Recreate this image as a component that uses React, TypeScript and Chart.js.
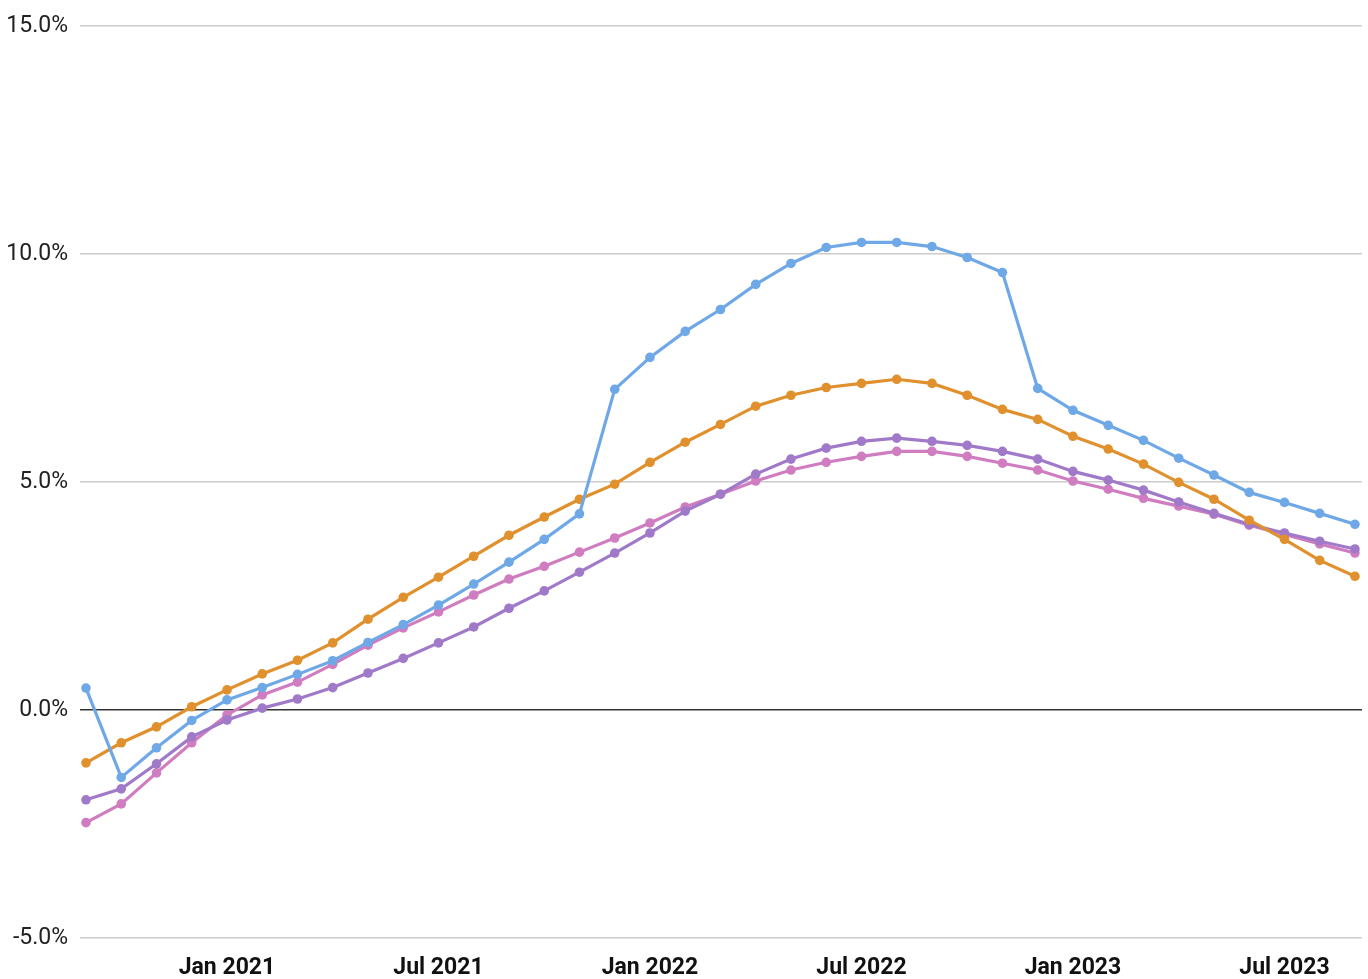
import React, { useEffect, useRef } from "react";
import { Chart, registerables } from "chart.js";

Chart.register(...registerables);

const months: string[] = [
  "Sep 2020", "Oct 2020", "Nov 2020", "Dec 2020",
  "Jan 2021", "Feb 2021", "Mar 2021", "Apr 2021", "May 2021", "Jun 2021",
  "Jul 2021", "Aug 2021", "Sep 2021", "Oct 2021", "Nov 2021", "Dec 2021",
  "Jan 2022", "Feb 2022", "Mar 2022", "Apr 2022", "May 2022", "Jun 2022",
  "Jul 2022", "Aug 2022", "Sep 2022", "Oct 2022", "Nov 2022", "Dec 2022",
  "Jan 2023", "Feb 2023", "Mar 2023", "Apr 2023", "May 2023", "Jun 2023",
  "Jul 2023", "Aug 2023", "Sep 2023",
];

const xTickLabels: string[] = ["Jan 2021", "Jul 2021", "Jan 2022", "Jul 2022", "Jan 2023", "Jul 2023"];
const yTickValues: number[] = [-5, 0, 5, 10, 15];

const blueSeries: number[] = [
  0.48, -1.48, -0.83, -0.23, 0.22, 0.49, 0.78, 1.08, 1.48, 1.87, 2.30, 2.76, 3.24,
  3.74, 4.30, 7.03, 7.73, 8.30, 8.78, 9.33, 9.79, 10.14, 10.25, 10.25, 10.16, 9.92,
  9.59, 7.05, 6.57, 6.24, 5.91, 5.52, 5.15, 4.77, 4.55, 4.31, 4.07,
];
const orangeSeries: number[] = [
  -1.16, -0.72, -0.37, 0.07, 0.44, 0.79, 1.09, 1.47, 1.99, 2.47, 2.91, 3.37, 3.83,
  4.23, 4.62, 4.95, 5.43, 5.87, 6.26, 6.66, 6.90, 7.07, 7.16, 7.25, 7.16, 6.90,
  6.59, 6.37, 6.00, 5.72, 5.39, 4.99, 4.62, 4.16, 3.74, 3.28, 2.93,
];
const purpleSeries: number[] = [
  -1.97, -1.73, -1.18, -0.59, -0.22, 0.04, 0.24, 0.49, 0.81, 1.13, 1.47, 1.82, 2.23,
  2.61, 3.02, 3.44, 3.88, 4.36, 4.73, 5.17, 5.50, 5.74, 5.89, 5.96, 5.89, 5.80,
  5.67, 5.50, 5.23, 5.04, 4.82, 4.56, 4.31, 4.07, 3.88, 3.70, 3.53,
];
const pinkSeries: number[] = [
  -2.47, -2.06, -1.38, -0.72, -0.11, 0.33, 0.61, 1.00, 1.42, 1.80, 2.15, 2.52, 2.87,
  3.15, 3.46, 3.77, 4.10, 4.45, 4.73, 5.02, 5.26, 5.43, 5.56, 5.67, 5.67, 5.56,
  5.41, 5.26, 5.02, 4.84, 4.64, 4.47, 4.29, 4.05, 3.85, 3.64, 3.44,
];

const seriesDefs = [
  { values: blueSeries, color: "#6fa8e6" },
  { values: orangeSeries, color: "#e0902c" },
  { values: purpleSeries, color: "#a07ac8" },
  { values: pinkSeries, color: "#d07cc0" },
];

export default function App() {
  const ref = useRef<HTMLCanvasElement | null>(null);

  useEffect(() => {
    document.body.style.margin = "0";
    const canvas = ref.current;
    if (!canvas) return;
    const tickIdx = xTickLabels.map((l) => months.indexOf(l));
    const chart = new Chart(canvas, {
      type: "line",
      data: {
        datasets: seriesDefs.map((s) => ({
          data: s.values.map((v, i) => ({ x: i, y: v })),
          borderColor: s.color,
          backgroundColor: s.color,
          pointBackgroundColor: s.color,
          pointBorderColor: s.color,
          borderWidth: 3.2,
          pointRadius: 4.8,
          pointBorderWidth: 0,
          tension: 0,
          fill: false,
        })),
      },
      options: {
        responsive: false,
        animation: false,
        layout: { padding: { top: 24, right: 6, left: 0, bottom: 0 } },
        plugins: { legend: { display: false }, tooltip: { enabled: false } },
        scales: {
          x: {
            type: "linear",
            min: -0.17,
            max: 36.2,
            grid: { display: false, drawTicks: false },
            border: { display: false },
            afterBuildTicks: (scale: any) => {
              scale.ticks = tickIdx.map((v) => ({ value: v }));
            },
            afterFit: (scale: any) => {
              scale.height = 41;
            },
            ticks: {
              autoSkip: false,
              maxRotation: 0,
              padding: 16,
              color: "#111111",
              font: { family: "Roboto", size: 23, weight: "bold" },
              callback: (v: any) => months[Number(v)] ?? "",
            },
          },
          y: {
            type: "linear",
            min: -5,
            max: 15,
            afterBuildTicks: (scale: any) => {
              scale.ticks = yTickValues.map((v) => ({ value: v }));
            },
            afterFit: (scale: any) => {
              scale.width = 80;
            },
            grid: {
              drawTicks: false,
              lineWidth: 1.5,
              color: (ctx: any) => (ctx.tick && ctx.tick.value === 0 ? "#333333" : "#cccccc"),
            },
            border: { display: false },
            ticks: {
              padding: 12,
              color: "#222222",
              font: { family: "Roboto", size: 23 },
              callback: (v: any) => Number(v).toFixed(1) + "%",
            },
          },
        },
      },
    });
    return () => chart.destroy();
  }, []);

  return <canvas ref={ref} width={1368} height={979} style={{ display: "block" }} />;
}
